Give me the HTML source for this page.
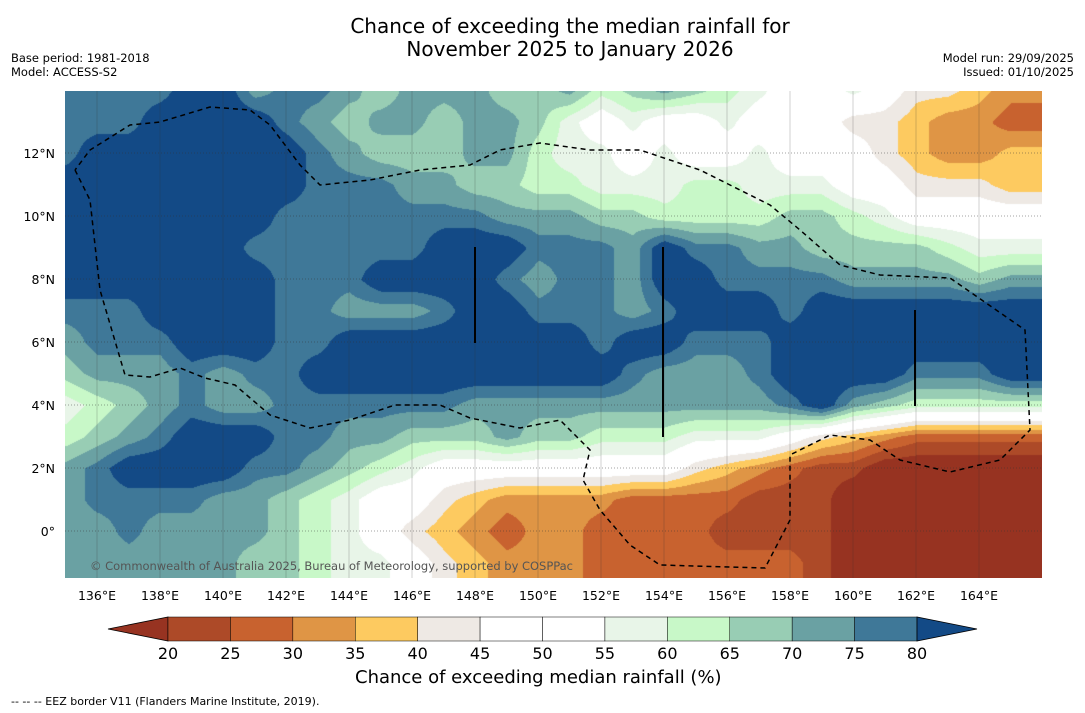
<!DOCTYPE html>
<html><head><meta charset="utf-8">
<style>
body{margin:0;background:#fff;font-family:"DejaVu Sans","Liberation Sans",sans-serif;}
#wrap{position:relative;width:1085px;height:713px;overflow:hidden;background:#fff;}
.t{position:absolute;white-space:nowrap;color:#000;}
canvas{position:absolute;left:65px;top:91px;}
svg{position:absolute;left:0;top:0;}
</style></head><body>
<div id="wrap">
<div class="t" style="left:0;width:1140px;text-align:center;top:15px;font-size:20px;line-height:23px;">Chance of exceeding the median rainfall for<br>November 2025 to January 2026</div>
<div class="t" style="left:11px;top:51px;font-size:11.5px;line-height:14px;">Base period: 1981-2018<br>Model: ACCESS-S2</div>
<div class="t" style="right:11px;top:51px;font-size:11.5px;line-height:14px;text-align:right;">Model run: 29/09/2025<br>Issued: 01/10/2025</div>
<canvas id="map" width="977" height="487"></canvas>
<svg id="ov" width="1085" height="713"></svg>
<div class="t" style="left:355px;top:667px;font-size:18px;">Chance of exceeding median rainfall (%)</div>
<div class="t" style="left:11px;top:695px;font-size:11px;">--  --  -- EEZ border V11 (Flanders Marine Institute, 2019).</div>
</div>
<script>
const lons=[135,136,137,138,139,140,141,142,143,144,145,146,147,148,149,150,151,152,153,154,155,156,157,158,159,160,161,162,163,164,165,166];
const lats=[14,13,12,11,10,9,8,7,6,5,4,3,2,1,0,-1,-2];
const r14=[77,77,77,77,85,85,72,77,77,72,67,72,72,72,67,67,72,62,67,72,67,62,57,50,50,57,50,42,42,37,32,32];
const r13=[77,77,77,85,85,85,85,77,72,67,72,72,67,72,72,67,57,50,57,50,50,57,50,50,50,42,42,37,32,32,27,27];
const r12=[77,85,85,85,85,85,85,85,77,72,67,67,67,72,72,62,57,57,50,57,50,50,57,50,50,50,42,37,32,32,37,37];
const r11=[85,85,85,85,85,85,85,85,77,77,77,72,72,67,67,62,62,57,57,57,62,62,57,57,57,50,50,42,42,42,37,37];
const r10=[85,85,85,85,85,85,85,77,77,77,77,77,77,77,72,72,72,67,67,62,62,62,62,67,67,62,57,50,50,50,50,50];
const r9=[85,85,85,85,85,85,77,77,77,77,77,77,85,85,85,77,77,77,72,85,77,77,72,72,67,67,67,67,62,57,57,57];
const r8=[85,85,85,85,85,85,85,77,77,77,85,85,85,85,77,72,77,77,72,85,85,77,77,77,77,72,72,72,72,67,72,72];
const r7=[77,77,77,85,85,85,85,77,77,72,72,72,77,85,85,77,77,77,72,77,85,85,85,77,85,85,85,85,85,85,85,85];
const r6=[72,77,77,77,85,85,85,77,77,85,85,85,85,85,85,85,85,77,85,85,77,77,77,85,85,85,85,85,85,85,85,85];
const r5=[67,72,72,72,77,72,77,77,85,85,85,85,85,85,85,85,85,85,77,72,72,72,77,85,85,85,85,77,77,77,85,85];
const r4=[57,62,67,72,77,72,72,77,77,77,77,77,77,72,72,72,72,72,72,72,72,72,72,77,85,72,67,62,62,62,62,62];
const r3=[62,67,72,77,85,85,85,77,77,72,72,67,67,67,72,67,67,62,62,62,57,57,57,50,42,37,32,27,27,27,27,27];
const r2=[72,77,85,85,85,85,77,77,72,67,62,57,50,50,50,50,50,50,50,50,42,37,32,27,22,22,15,15,15,15,15,15];
const r1=[72,77,77,77,77,72,72,67,62,57,50,50,42,37,32,32,32,32,27,27,27,27,22,22,22,15,15,15,15,15,15,15];
const r0=[72,72,77,72,72,72,72,67,62,57,50,42,37,32,27,32,32,27,27,27,27,22,22,22,22,15,15,15,15,15,15,15];
const rm1=[72,72,72,72,72,72,67,67,62,57,57,50,42,37,32,32,32,27,27,27,27,27,27,27,22,15,15,15,15,15,15,15];
const rm2=[72,72,72,72,72,72,67,67,62,57,57,50,42,37,32,32,32,27,27,27,27,27,27,27,22,15,15,15,15,15,15,15];
const grid=[r14,r13,r12,r11,r10,r9,r8,r7,r6,r5,r4,r3,r2,r1,r0,rm1,rm2];
const levels=[20,25,30,35,40,45,50,55,60,65,70,75,80];
const colors=["#973321","#ad4a28","#c8622f","#df9545","#fdca60","#eee9e4","#ffffff","#ffffff","#e8f5e8","#c8f8c8","#98cdb4","#6aa1a3","#3f7898","#134a86"];
const tickLons=[136,138,140,142,144,146,148,150,152,154,156,158,160,162,164];
const tickLats=[0,2,4,6,8,10,12];
const PX=31.5;
function xOf(lon){return 65.5+(lon-135)*PX;}
function yOf(lat){return 531-lat*PX;}
function colIdx(v){let i=0;while(i<levels.length&&v>=levels[i])i++;return i;}
function hex(c){return [parseInt(c.slice(1,3),16),parseInt(c.slice(3,5),16),parseInt(c.slice(5,7),16)];}
const rgb=colors.map(hex);
const cv=document.getElementById('map');const ctx=cv.getContext('2d');
const W=cv.width,H=cv.height;const img=ctx.createImageData(W,H);
for(let py=0;py<H;py++){const lat=(531-(py+91))/PX;let fy=(lats[0]-lat);if(fy<0)fy=0;if(fy>lats.length-1.001)fy=lats.length-1.001;const j=Math.floor(fy),ty=fy-j;
for(let px=0;px<W;px++){const lon=135+((px+65)-65.5)/PX;let fx=lon-lons[0];if(fx<0)fx=0;if(fx>lons.length-1.001)fx=lons.length-1.001;const i=Math.floor(fx),tx=fx-i;
const v=(grid[j][i]*(1-tx)+grid[j][i+1]*tx)*(1-ty)+(grid[j+1][i]*(1-tx)+grid[j+1][i+1]*tx)*ty;
const c=rgb[colIdx(v)];const k=(py*W+px)*4;img.data[k]=c[0];img.data[k+1]=c[1];img.data[k+2]=c[2];img.data[k+3]=255;}}
ctx.putImageData(img,0,0);
const NS="http://www.w3.org/2000/svg";const ov=document.getElementById('ov');
function mk(t,a){const e=document.createElementNS(NS,t);for(const k in a)e.setAttribute(k,a[k]);ov.appendChild(e);return e;}
tickLons.forEach(l=>{const x=xOf(l);
const g=mk('line',{x1:x,y1:91,x2:x,y2:578,stroke:'#333','stroke-width':0.5,'stroke-opacity':0.45});


const t=mk('text',{x:x,y:600,'font-size':12.5,'text-anchor':'middle','font-family':'DejaVu Sans, sans-serif'});t.textContent=l+'°E';

});
tickLats.forEach(l=>{const y=yOf(l);
const g=mk('line',{x1:65,y1:y,x2:1042,y2:y,stroke:'#333','stroke-width':0.7,'stroke-dasharray':'1,2','stroke-opacity':0.6});


const t=mk('text',{x:55,y:y+5,'font-size':12.5,'text-anchor':'end','font-family':'DejaVu Sans, sans-serif'});t.textContent=l===0?'0°':l+'°N';

});
const eez=mk('polyline',{points:"75,170 90,200 100,290 125,375 150,377 180,368 205,378 235,385 270,415 310,428 350,420 395,405 440,405 470,418 520,428 560,420 575,435 590,450 583,480 600,510 630,545 660,565 765,568 790,520 790,455 830,435 870,440 900,460 950,472 1000,460 1030,430 1025,330 950,278 880,275 840,265 800,230 770,205 700,170 640,150 590,150 540,143 500,150 470,165 420,170 370,180 320,185 300,165 270,125 250,110 210,107 160,122 130,125 90,150 75,170",fill:'none',stroke:'#000','stroke-width':1.5,'stroke-dasharray':'5,4'});


[[475,247,343],[663,247,437],[915,310,406]].forEach(v=>{const l=mk('line',{x1:v[0],y1:v[1],x2:v[0],y2:v[2],stroke:'#000','stroke-width':2});

});
const cp=mk('text',{x:90,y:570,'font-size':11.5,fill:'#555','font-family':'DejaVu Sans, sans-serif',textLength:483});cp.textContent='© Commonwealth of Australia 2025, Bureau of Meteorology, supported by COSPPac';


const x0=168,x1=917,yb=617,hb=24,bw=(x1-x0)/12;
const lt=mk('polygon',{points:`${x0},${yb} ${x0},${yb+hb} 108,${yb+hb/2}`,fill:colors[0],stroke:'#000','stroke-width':0.8});


for(let i=0;i<12;i++){const r=mk('rect',{x:x0+i*bw,y:yb,width:bw,height:hb,fill:colors[i+1],stroke:'#000','stroke-width':0.5});

}
const rt=mk('polygon',{points:`${x1},${yb} ${x1},${yb+hb} 977,${yb+hb/2}`,fill:colors[13],stroke:'#000','stroke-width':0.8});


levels.forEach((lv,i)=>{const t=mk('text',{x:x0+i*bw,y:659,'font-size':16,'text-anchor':'middle','font-family':'DejaVu Sans, sans-serif'});t.textContent=lv;

});
</script>
</body></html>
